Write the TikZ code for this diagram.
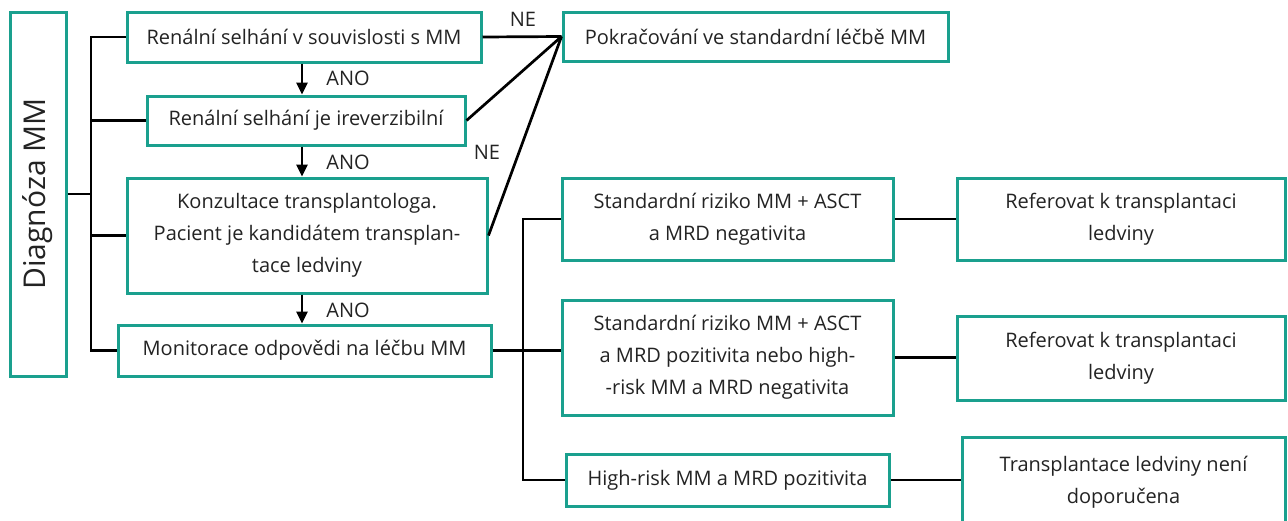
\documentclass[tikz,border=0pt]{standalone}
\usepackage{fontspec}
\setmainfont{Open Sans}
\usetikzlibrary{arrows.meta}
\definecolor{tealb}{RGB}{26,160,142}
\definecolor{ink}{RGB}{35,35,35}
\begin{document}
\begin{tikzpicture}[x=1pt,y=-1pt,
  box/.style={draw=tealb, line width=3pt, fill=white, text=ink, align=center,
    inner sep=0pt, font=\fontsize{20}{32}\selectfont},
  link/.style={line width=2.7pt, draw=black},
  arr/.style={link, -{Triangle[length=12pt,width=11pt]}},
  lbl/.style={text=ink, font=\fontsize{20}{22}\selectfont, inner sep=0pt}]
\useasboundingbox (0,0) rectangle (1288,520);

% left column
\node[box, minimum width=56pt, minimum height=364pt] (diag) at (38,194)
  {\rotatebox{90}{\fontsize{30}{32}\selectfont Diagnóza MM}};
\node[box, minimum width=354pt, minimum height=50pt] (A) at (304,37)
  {Renální selhání v souvislosti s MM};
\node[box, minimum width=318pt, minimum height=49pt] (B) at (306,120.5)
  {Renální selhání je ireverzibilní};
\node[box, minimum width=360pt, minimum height=115pt] (C) at (307,235.5)
  {Konzultace transplantologa.\\Pacient je kandidátem transplan-\\tace ledviny};
\node[box, minimum width=373pt, minimum height=51pt] (D) at (304.5,350.5)
  {Monitorace odpovědi na léčbu MM};
\node[box, minimum width=385pt, minimum height=49pt] (E) at (755.5,36.5)
  {Pokračování ve standardní léčbě MM};

% risk groups and outcomes
\node[box, minimum width=331pt, minimum height=82pt] (F) at (727.5,219)
  {Standardní riziko MM + ASCT\\a MRD negativita};
\node[box, minimum width=331pt, minimum height=115pt] (G) at (727.5,357.5)
  {Standardní riziko MM + ASCT\\a MRD pozitivita nebo high-\\-risk MM a MRD negativita};
\node[box, minimum width=323pt, minimum height=52pt] (H) at (727.5,480)
  {High-risk MM a MRD pozitivita};
\node[box, minimum width=328pt, minimum height=82pt] (I) at (1121,219)
  {Referovat k transplantaci\\ledviny};
\node[box, minimum width=328pt, minimum height=84pt] (J) at (1121,358)
  {Referovat k transplantaci\\ledviny};
\node[box, minimum width=323pt, minimum height=90pt] (K) at (1123.5,482)
  {Transplantace ledviny není\\doporučena};

% trunk positions
\coordinate (lt) at (91,0);
\coordinate (rt) at (523,0);
\coordinate (ax) at (302,0);

% left trunk
\draw[link] (A.west) -- (A.west -| lt) -- (D.west -| lt) -- (D.west);
\draw[link] (B.west) -- (B.west -| lt);
\draw[link] (C.west) -- (C.west -| lt);
\draw[link] (diag.east) -- (diag.east -| lt);

% YES arrows
\draw[arr] (A.south -| ax) -- (B.north -| ax);
\draw[arr] (B.south -| ax) -- (C.north -| ax);
\draw[arr] (C.south -| ax) -- (D.north -| ax);
\node[lbl] (ano1) at (348,78) {ANO};
\node[lbl] (ano2) at (348,162) {ANO};
\node[lbl] (ano3) at (348,310) {ANO};

% NO branches
\draw[link] (A.east) -- (E.west);
\draw[link] (B.east) -- (E.west);
\draw[link] (C.east) -- (E.west);
\node[lbl] (ne1) at (523,19) {NE};
\node[lbl] (ne2) at (487,152) {NE};

% right trunk
\draw[link] (D.east) -- (D.east -| G.west);
\draw[link] (F.west) -- (F.west -| rt) -- (H.west -| rt) -- (H.west);
\draw[link] (F.east) -- (I.west);
\draw[link] (G.east) -- (G.east -| J.west);
\draw[link] (H.east) -- (H.east -| K.west);
\end{tikzpicture}
\end{document}
